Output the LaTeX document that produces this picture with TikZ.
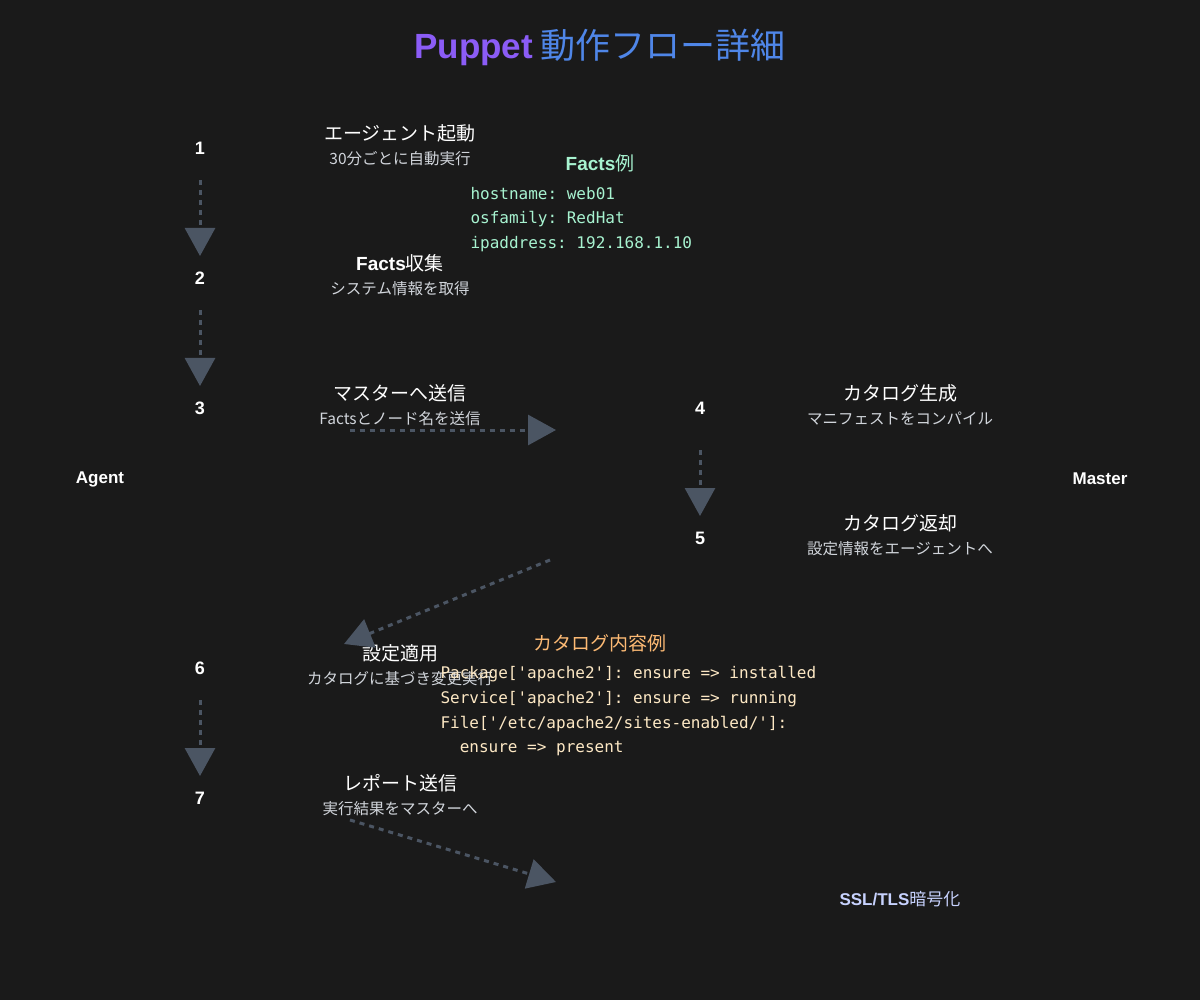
\documentclass[tikz,border=0pt]{standalone}
\usepackage{fontspec}
\setmainfont{Noto Sans CJK JP}
\newfontfamily\latin{Liberation Sans}
\setmonofont{DejaVu Sans Mono}
\usetikzlibrary{arrows.meta}
\definecolor{bg}{HTML}{1A1A1A}
\definecolor{arr}{HTML}{4B5563}
\definecolor{sub}{HTML}{D1D5DB}
\definecolor{mint}{HTML}{A7F3D0}
\definecolor{cream}{HTML}{FDE8C4}
\definecolor{orng}{HTML}{FDBA74}
\definecolor{lav}{HTML}{C7D2FE}
\definecolor{tpurp}{HTML}{8B5CF6}
\definecolor{tblue}{HTML}{4F86E8}
\tikzset{
 num/.style={text=white,font=\latin\fontsize{18}{20}\selectfont\bfseries},
 ttl/.style={text=white,font=\fontsize{19}{22}\selectfont},
 sbt/.style={text=sub,font=\fontsize{15.5}{18}\selectfont},
 flow/.style={draw=arr,line width=3pt,dash pattern=on 5pt off 5pt,-{Triangle[width=30pt,length=28pt]}},
 code/.style={font=\ttfamily\fontsize{16}{18}\selectfont,anchor=west},
 side/.style={text=white,font=\latin\fontsize{17}{20}\selectfont\bfseries}
}
\begin{document}
\begin{tikzpicture}[x=1pt,y=-1pt]
\fill[bg] (0,0) rectangle (1200,1000);
\useasboundingbox (0,0) rectangle (1200,1000);
\node (title) at (600,47) {\fontsize{35}{40}\selectfont\textcolor{tpurp}{\latin\bfseries Puppet} \textcolor{tblue}{動作フロー詳細}};
% numbers
\node[num] (n1) at (200,148) {1};
\node[num] (n2) at (200,278) {2};
\node[num] (n3) at (200,408) {3};
\node[num] (n4) at (700,408) {4};
\node[num] (n5) at (700,538) {5};
\node[num] (n6) at (200,668) {6};
\node[num] (n7) at (200,798) {7};
% titles
\node[ttl] (t1) at (400,133) {エージェント起動};
\node[sbt] (s1) at (400,159) {30分ごとに自動実行};
\node[ttl] (t2) at (400,263) {\latin\bfseries Facts\normalfont\fontsize{19}{22}\selectfont 収集};
\node[sbt] (s2) at (400,289) {システム情報を取得};
\node[ttl] (t3) at (400,393) {マスターへ送信};
\node[sbt] (s3) at (400,419) {Factsとノード名を送信};
\node[ttl] (t4) at (900,393) {カタログ生成};
\node[sbt] (s4) at (900,419) {マニフェストをコンパイル};
\node[ttl] (t5) at (900,523) {カタログ返却};
\node[sbt] (s5) at (900,549) {設定情報をエージェントへ};
\node[ttl] (t6) at (400,653) {設定適用};
\node[sbt] (s6) at (400,679) {カタログに基づき変更実行};
\node[ttl] (t7) at (400,783) {レポート送信};
\node[sbt] (s7) at (400,809) {実行結果をマスターへ};
% sides
\node[side] (agent) at (100,479) {Agent};
\node[side] (master) at (1100,479) {Master};
\node[text=lav,font=\fontsize{17}{20}\selectfont] (ssl) at (900,899) {\latin\bfseries SSL/TLS\normalfont\fontsize{17}{20}\selectfont 暗号化};
% facts
\node[text=mint,font=\fontsize{19}{22}\selectfont] (fh) at (600,163) {\latin\bfseries Facts\normalfont\fontsize{19}{22}\selectfont 例};
\node[code,text=mint] (f1) at (467,194) {hostname: web01};
\node[code,text=mint] (f2) at (467,219) {osfamily: RedHat};
\node[code,text=mint] (f3) at (467,244) {ipaddress: 192.168.1.10};
% catalog
\node[text=orng,font=\fontsize{19}{22}\selectfont] (ch) at (600,643) {カタログ内容例};
\node[code,text=cream] (c1) at (437,674) {Package['apache2']: ensure => installed};
\node[code,text=cream] (c2) at (437,699) {Service['apache2']: ensure => running};
\node[code,text=cream] (c3) at (437,724) {File['/etc/apache2/sites-enabled/']:};
\node[code,text=cream] (c4) at (437,749) {\ \ ensure => present};
% arrows
\coordinate (a1s) at (200,180); \coordinate (a1e) at (200,256);
\coordinate (a2s) at (200,310); \coordinate (a2e) at (200,386);
\coordinate (a6s) at (200,700); \coordinate (a6e) at (200,776);
\coordinate (a4s) at (700,450); \coordinate (a4e) at (700,516);
\coordinate (h1) at (350,430); \coordinate (h2) at (556,430);
\coordinate (d1) at (550,560); \coordinate (d2) at (344,644);
\coordinate (e1) at (350,820); \coordinate (e2) at (556,882);
\draw[flow] (a1s) -- (a1e);
\draw[flow] (a2s) -- (a2e);
\draw[flow] (a6s) -- (a6e);
\draw[flow] (a4s) -- (a4e);
\draw[flow] (h1) -- (h2);
\draw[flow] (d1) -- (d2);
\draw[flow] (e1) -- (e2);
\end{tikzpicture}
\end{document}
